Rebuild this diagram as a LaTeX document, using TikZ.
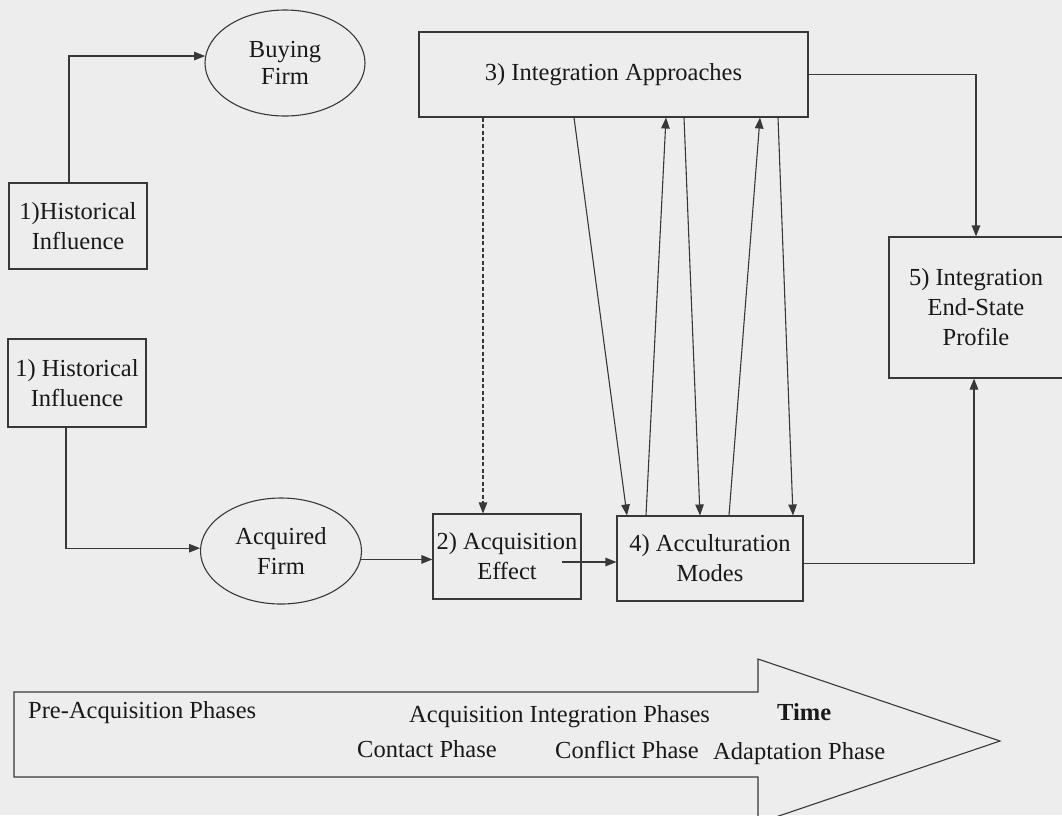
\documentclass[tikz,border=0pt]{standalone}
\usepackage{fontspec}
\setmainfont{Liberation Serif}
\usetikzlibrary{shapes.geometric,arrows.meta}
\newcommand\diagfont{\fontsize{24.5}{30}\selectfont}
\begin{document}
\begin{tikzpicture}[x=1pt,y=-1pt,
  ink/.style={draw=black!78, line width=1.1pt},
  flow/.style={ink, -{Triangle[length=11pt,width=8.5pt]}},
  box/.style={ink, rectangle, inner sep=0pt, align=center, text=black!90, font=\diagfont},
  oval/.style={ink, ellipse, inner sep=0pt, align=center, text=black!90, font=\diagfont},
  lbl/.style={inner sep=0pt, text=black!90, font=\diagfont},
]
% page and background
\fill[black!7] (0,0) rectangle (1062,815);
\useasboundingbox (0,0) rectangle (1062,815);
\clip (0,0) rectangle (1062,815);

% nodes
\node[box, minimum width=138pt, minimum height=86pt] (h1) at (78,226) {1)Historical\\Influence};
\node[box, minimum width=138pt, minimum height=88pt] (h2) at (77,383) {1) Historical\\Influence};
\node[oval, minimum width=160pt, minimum height=106pt, font=\fontsize{24.5}{27}\selectfont] (buy) at (285,63) {Buying\\Firm};
\node[oval, minimum width=161pt, minimum height=106pt] (acq) at (281,551) {Acquired\\Firm};
\node[box, minimum width=389pt, minimum height=85pt] (b3) at (613.5,74.5) {3) Integration Approaches};
\node[box, minimum width=148pt, minimum height=85pt] (b2) at (507,556.5) {2) Acquisition\\Effect};
\node[box, minimum width=186pt, minimum height=85pt] (b4) at (710,558.5) {4) Acculturation\\Modes};
\node[box, minimum width=174pt, minimum height=141pt] (b5) at (976,307.5) {5) Integration\\End-State\\Profile};

% connectors
\draw[flow] ([xshift=-9pt]h1.north) |- (buy.175);
\draw[flow] ([xshift=-11pt]h2.south) |- (acq.178);
\draw[flow] (acq.354) -- (acq.354 -| b2.west);
\coordinate (b2out) at (562,562);
\draw[flow] (b2out) -- (b2out -| b4.west);
\draw[flow] ([yshift=-5pt]b4.east) -| ([xshift=-2pt]b5.south);
\draw[flow] (b3.east) -| (b5.north);
\draw[flow, dash pattern=on 4pt off 2.5pt] ([xshift=-24pt]b2.north |- b3.south) -- ([xshift=-24pt]b2.north);

% exchanges between integration approaches and acculturation modes
\draw[flow] ([xshift=-39.5pt]b3.south) -- ([xshift=-83pt]b4.north);
\draw[flow] ([xshift=-64pt]b4.north) -- ([xshift=52.5pt]b3.south);
\draw[flow] ([xshift=70.5pt]b3.south) -- ([xshift=-10pt]b4.north);
\draw[flow] ([xshift=19pt]b4.north) -- ([xshift=146.5pt]b3.south);
\draw[flow] ([xshift=164.5pt]b3.south) -- ([xshift=83pt]b4.north);

% time arrow
\draw[ink, line join=miter] (14,692) -- (758,692) -- (758,659) -- (1000,741)
  -- (758,823) -- (758,777) -- (14,777) -- cycle;
\node[lbl, anchor=base west] (pre) at (28,718) {Pre-Acquisition Phases};
\node[lbl, anchor=base west] (aip) at (409,722) {Acquisition Integration Phases};
\node[lbl, anchor=base west, font=\diagfont\bfseries] (time) at (777,720) {Time};
\node[lbl, anchor=base west] (contact) at (357,757) {Contact Phase};
\node[lbl, anchor=base west] (conflict) at (555,758) {Conflict Phase};
\node[lbl, anchor=base west] (adapt) at (713,759) {Adaptation Phase};
\end{tikzpicture}
\end{document}
